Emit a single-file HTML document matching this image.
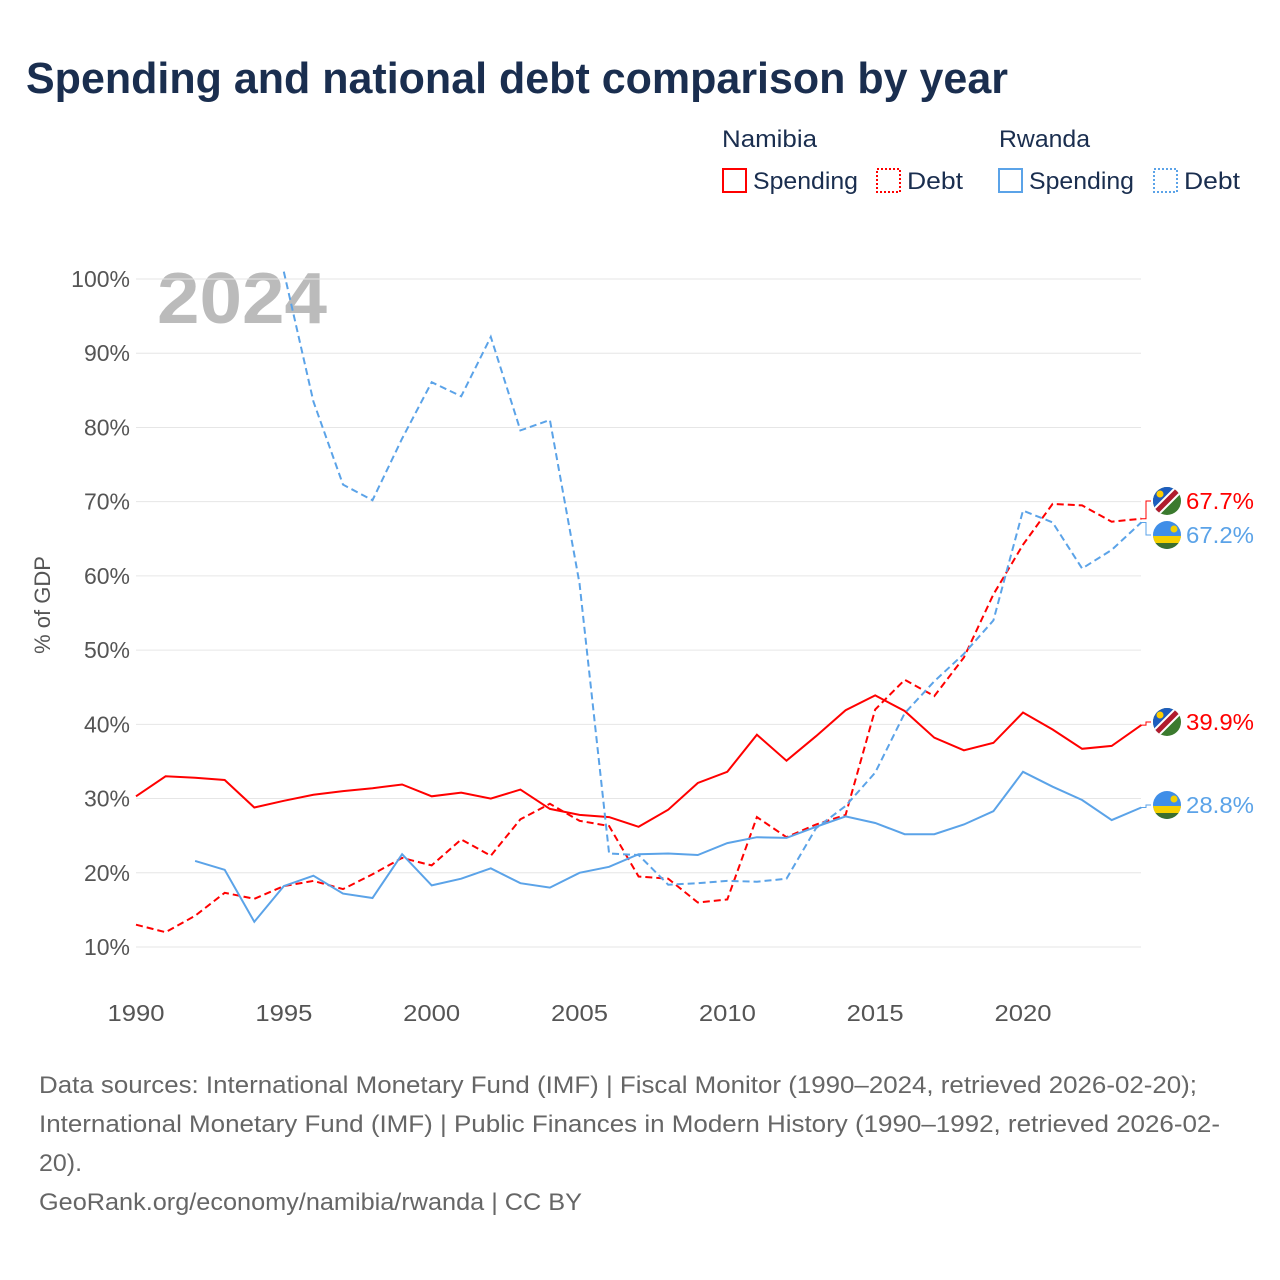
<!DOCTYPE html>
<html><head><meta charset="utf-8"><style>
body{margin:0;background:#fff;font-family:"Liberation Sans",sans-serif;}
#wrap{position:relative;width:1280px;height:1280px;overflow:hidden}
</style></head><body>
<div id="wrap">
<svg id="chart" width="1280" height="1280" style="font-family:'Liberation Sans',sans-serif">
<defs>
<clipPath id="cN"><circle cx="0" cy="0" r="14"/></clipPath>
</defs>
<text x="26" y="93" font-size="44" font-weight="bold" fill="#1a2e4f" textLength="982" lengthAdjust="spacingAndGlyphs">Spending and national debt comparison by year</text>
<g font-size="24" fill="#1a2e4f">
<text x="722" y="147" textLength="95" lengthAdjust="spacingAndGlyphs">Namibia</text>
<text x="999" y="147" textLength="91" lengthAdjust="spacingAndGlyphs">Rwanda</text>
<g><rect x="723" y="169" width="23" height="23" fill="none" stroke="#f00" stroke-width="2"/><text x="753" y="189" textLength="105" lengthAdjust="spacingAndGlyphs">Spending</text></g>
<g><rect x="877" y="169" width="23" height="23" fill="none" stroke="#f00" stroke-width="2" stroke-dasharray="2,2"/><text x="907" y="189" textLength="56" lengthAdjust="spacingAndGlyphs">Debt</text></g>
<g><rect x="999" y="169" width="23" height="23" fill="none" stroke="#5ba3e8" stroke-width="2"/><text x="1029" y="189" textLength="105" lengthAdjust="spacingAndGlyphs">Spending</text></g>
<g><rect x="1154" y="169" width="23" height="23" fill="none" stroke="#5ba3e8" stroke-width="2" stroke-dasharray="2,2"/><text x="1184" y="189" textLength="56" lengthAdjust="spacingAndGlyphs">Debt</text></g>
</g>
<text x="157" y="323" font-size="72" font-weight="bold" fill="#bbb" textLength="170" lengthAdjust="spacingAndGlyphs">2024</text>
<text transform="translate(50,605) rotate(-90)" text-anchor="middle" font-size="22" fill="#555">% of GDP</text>
<g id="grid"></g><g id="xt"></g><g id="series"></g><g id="ends"></g>
<g font-size="24" fill="#666">
<text x="39" y="1093" textLength="1158" lengthAdjust="spacingAndGlyphs">Data sources: International Monetary Fund (IMF) | Fiscal Monitor (1990–2024, retrieved 2026-02-20);</text>
<text x="39" y="1132" textLength="1181" lengthAdjust="spacingAndGlyphs">International Monetary Fund (IMF) | Public Finances in Modern History (1990–1992, retrieved 2026-02-</text>
<text x="39" y="1171" textLength="43" lengthAdjust="spacingAndGlyphs">20).</text>
<text x="39" y="1210" textLength="543" lengthAdjust="spacingAndGlyphs">GeoRank.org/economy/namibia/rwanda | CC BY</text>
</g>
</svg></div>
<script>
const years=[];for(let y=1990;y<=2024;y++)years.push(y);
const yTicks=[10,20,30,40,50,60,70,80,90,100];
const xTicks=[1990,1995,2000,2005,2010,2015,2020];
const namSpend=[30.3,33.0,32.8,32.5,28.8,29.7,30.5,31.0,31.4,31.9,30.3,30.8,30.0,31.2,28.6,27.8,27.5,26.2,28.5,32.1,33.6,38.6,35.1,38.4,41.9,43.9,41.8,38.2,36.5,37.5,41.6,39.3,36.7,37.1,39.9];
const namDebt=[13.0,12.0,14.2,17.3,16.5,18.2,18.9,17.8,19.8,22.0,21.0,24.5,22.3,27.2,29.3,27.0,26.3,19.5,19.2,16.0,16.4,27.5,24.8,26.5,27.8,42.0,46.0,43.8,49.0,57.5,64.2,69.7,69.5,67.3,67.7];
const rwaSpend=[null,null,21.6,20.4,13.4,18.2,19.6,17.2,16.6,22.5,18.3,19.2,20.6,18.6,18.0,20.0,20.8,22.5,22.6,22.4,24.0,24.8,24.7,26.2,27.6,26.7,25.2,25.2,26.5,28.3,33.6,31.6,29.8,27.1,28.8];
const rwaDebt=[null,null,null,null,null,101,83.5,72.3,70.2,78.5,86.1,84.2,92.2,79.6,81.0,59.0,22.6,22.4,18.4,18.6,18.9,18.8,19.2,26.0,29.0,33.5,41.5,45.8,49.5,54.0,68.8,67.2,61.0,63.5,67.2];
const X=y=>136+(y-1990)*(1023-136)/30;
const Y=v=>947-(v-10)*(947-279)/90;
const NS="http://www.w3.org/2000/svg";
function mk(t,a,p){const e=document.createElementNS(NS,t);for(const k in a)e.setAttribute(k,a[k]);p.appendChild(e);return e;}
const grid=document.getElementById('grid');
yTicks.forEach(v=>{
 const l=mk('line',{x1:136,x2:1141,y1:Y(v),y2:Y(v),stroke:'#e6e6e6','stroke-width':1},grid);
 
 
 const t=mk('text',{x:130,y:Y(v)+8,'text-anchor':'end','font-size':23,fill:'#555'},grid);t.textContent=v+'%';
 
 
});
const xt=document.getElementById('xt');
xTicks.forEach(v=>{
 const t=mk('text',{x:X(v),y:1021,'text-anchor':'middle','font-size':23,fill:'#555',textLength:57,lengthAdjust:'spacingAndGlyphs'},xt);t.textContent=v;
 
 
});
const ser=document.getElementById('series');
function line(data,color,dash,name){
 let d='',pen=false;
 data.forEach((v,i)=>{if(v==null){pen=false;return;}d+=(pen?'L':'M')+X(years[i]).toFixed(1)+','+Y(v).toFixed(1);pen=true;});
 const p=mk('path',{d:d,fill:'none',stroke:color,'stroke-width':2,'stroke-dasharray':dash||'none'},ser);
 
 
}
line(namSpend,'#f00',null,'namibia-spending-line');
line(namDebt,'#f00','7,4','namibia-debt-line');
line(rwaSpend,'#5ba3e8',null,'rwanda-spending-line');
line(rwaDebt,'#5ba3e8','7,4','rwanda-debt-line');
const ends=document.getElementById('ends');
function flag(g,country){
 const c=mk('g',{'clip-path':'url(#cN)'},g);
 if(country==='nam'){
  mk('rect',{x:-15,y:-15,width:30,height:30,fill:'#3b7a2e'},c);
  mk('polygon',{points:'-15,-15 15,-15 -15,15',fill:'#1d5dbf'},c);
  mk('line',{x1:-16,y1:16,x2:16,y2:-16,stroke:'#fff',"stroke-width":9},c);
  mk('line',{x1:-16,y1:16,x2:16,y2:-16,stroke:'#b01c2e',"stroke-width":5},c);
  mk('circle',{cx:-7,cy:-7,r:3.5,fill:'#ffce00'},c);
 } else {
  mk('rect',{x:-15,y:-15,width:30,height:30,fill:'#3f8ee8'},c);
  mk('rect',{x:-15,y:1,width:30,height:7,fill:'#f5d000'},c);
  mk('rect',{x:-15,y:8,width:30,height:8,fill:'#3b6e2e'},c);
  mk('circle',{cx:7,cy:-6,r:3.5,fill:'#f5d000'},c);
 }
}
function endLabel(val,labelY,country,color,name){
 const g=mk('g',{},ends);
 
 
 const ly=Y(val);
 mk('path',{d:`M1141,${ly}H1146V${labelY}H1151`,fill:'none',stroke:color,'stroke-width':1},g);
 const f=mk('g',{transform:`translate(1167,${labelY})`},g);flag(f,country);
 const t=mk('text',{x:1186,y:labelY+8,'font-size':23,fill:color,textLength:68,lengthAdjust:'spacingAndGlyphs'},g);t.textContent=val.toFixed(1)+'%';
}
const last=a=>a[a.length-1];
endLabel(last(namDebt),501,'nam','#f00','namibia-debt-end-label');
endLabel(last(rwaDebt),535,'rwa','#5ba3e8','rwanda-debt-end-label');
endLabel(last(namSpend),722,'nam','#f00','namibia-spending-end-label');
endLabel(last(rwaSpend),805,'rwa','#5ba3e8','rwanda-spending-end-label');
</script>
</body></html>
